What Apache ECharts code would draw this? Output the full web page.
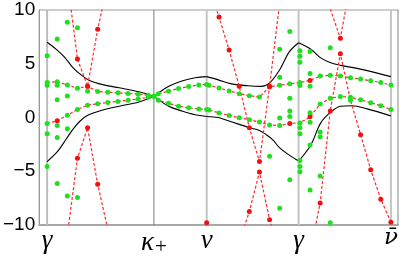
<!DOCTYPE html>
<html><head><meta charset="utf-8">
<script src="https://cdn.jsdelivr.net/npm/echarts@6/dist/echarts.min.js"></script>
<style>html,body{margin:0;padding:0;background:#fff}#c{width:407px;height:258px}</style>
</head><body><div id="c"></div>
<script>
// path coordinate k (sample index along the path), energy E
const symPos = [0, 10.56, 15.78, 24.87, 34];
const symNames = ['γ', 'κ+', 'ν', 'γ', 'ν\u0304'];
const yTicks = [-10, -5, 0, 5, 10];

// exact bands (black)
const blackUpper = [[0,7.0],[0.91,6.33],[1.74,5.6],[2.55,4.64],[3.36,3.96],[4.19,3.45],[5.49,3.06],[7.13,2.76],[9.41,2.31],[10.56,1.97],
  [12.03,2.9],[13.33,3.4],[14.64,3.7],[15.78,3.8],
  [16.93,3.5],[18.24,3.13],[19.87,2.95],[21.18,2.9],[21.99,3.2],[22.97,4.4],[23.95,6.1],[24.87,6.95],
  [26.08,6.35],[27.06,5.55],[28.04,5.1],[29.02,4.85],[30.98,4.5],[33.99,3.8]];
const blackLower = [[0,-4.1],[1.08,-3.1],[1.89,-2.0],[2.55,-1.1],[3.24,-0.35],[4.02,0.2],[5.49,0.7],[7.13,1.05],[9.09,1.45],[10.56,1.97],
  [12.03,1.05],[13.33,0.6],[14.64,0.25],[15.78,0.1],
  [16.93,0.0],[18.07,-0.35],[20.0,-0.95],[20.98,-1.2],[21.67,-1.6],[22.35,-2.1],[22.97,-2.8],[23.95,-3.5],[24.87,-4.05],
  [26.08,-2.55],[27.06,-0.5],[28.04,0.5],[29.02,1.05],[30.17,1.1],[31.64,0.8],[33.99,0.15]];

// approximate bands [k, E, flag]  (flag 1 = marked point)
const bandA = [[0,3.25,0],[1,3.32,0],[2,3.03,0],[3,2.72,0],[4,2.9,1],[5,2.42,0],[6,2.35,0],[7,2.3,0],[8,2.24,0],[9,2.17,0],[10,2.07,0],[10.56,1.97,0],
  [11,2.2,0],[12,2.45,0],[13,2.7,0],[14,2.88,0],[15,3.03,0],[15.78,3.07,0],
  [16,3.0,0],[17,2.75,0],[18,2.47,0],[19,2.22,0],[20,2.03,0],[21,1.9,0],[22,2.87,1],[23,3.0,0],[24,3.13,0],[25,3.25,0],
  [26,3.45,1],[27,3.85,0],[28,3.93,0],[29,3.87,0],[30,3.7,0],[31,3.57,0],[32,3.42,0],[33,3.25,0],[34,3.02,0]];
const bandB = [[0,-0.55,0],[1,-0.3,1],[2,0.22,0],[3,0.75,0],[4,1.15,0],[5,1.27,0],[6,1.4,0],[7,1.5,0],[8,1.6,0],[9,1.72,0],[10,1.88,0],[10.56,1.97,0],
  [11,1.6,0],[12,1.32,0],[13,1.05,0],[14,0.9,0],[15,0.8,0],[15.78,0.75,0],
  [16,0.7,0],[17,0.43,0],[18,0.18,0],[19,-0.02,0],[20,-0.2,0],[21,-0.43,0],[22,-0.7,0],[23,-0.75,0],[24,-0.55,1],[25,-0.5,0],
  [26,0.06,1],[27,1.25,0],[28,1.8,0],[29,1.95,0],[30,1.88,0],[31,1.65,0],[32,1.37,0],[33,1.1,0],[34,0.75,0]];
const bandC = [[2,12.8,0],[3,5.45,1],[4,2.9,1],[5,8.2,1],[6,12.45,0]];
const bandD = [[2,-10.9,0],[3,-3.8,1],[4,-0.95,1],[5,-6.2,1],[6,-10.4,0]];
const bandE = [[16,12.1,0],[17,9.35,1],[18,6.27,1],[19,2.9,1],[20,-0.95,1],[21,-4.1,1],[22,2.9,1],[23,10.7,0]];
const bandF = [[19,-11.5,0],[20,-8.75,1],[21,-5.07,1],[22,-9.5,1],[23,-12.5,0]];
const bandG = [[15,-14,0],[15.78,-9.8,1],[16,-14,0]];
const bandH = [[28,10.1,0],[29,7.37,1],[30,12.5,0]];
const bandI = [[26,-12.6,0],[27,-7.95,1],[28,0.6,1],[29,5.93,1],[30,1.6,0],[31,-1.6,1],[32,-4.85,1],[33,-7.6,1],[34,-9.75,1]];

// unconnected approximate points [k, E]
const loosePoints = [[0,5.75],[1,7.3],[2,8.85],[3,8.35],[0,3.0],[1,3.0],[1,1.65],[2,2.0],[4,2.45],[1,-0.75],[0,-1.5],[1,-1.85],[2,-1.05],
  [0,-4.55],[1,-6.15],[2,-7.3],[3,-7.45],
  [22,-3.6],[23,6.35],[23,3.75],[23,-0.05],[23,-8.45],[24,8.0],[24,1.8],[24,0.6],[24,0.1],[24,-5.8],
  [25,6.2],[25,5.7],[25,5.15],[25,2.98],[25,-0.95],[25,-1.5],[25,-4.0],[25,-4.55],[25,-5.05],
  [26,6.15],[26,4.1],[26,2.9],[26,0.45],[26,-0.45],[26,-2.55],[26,-6.75],[27,-1.35],[27,-1.8],[27,-5.45],[28,6.5],[28,-9.8]];

const GREEN = '#1fe01f', RED = '#f01010', DASH = '#ff2a2a';
const gridLineStyles = [
  {color:'#bdbdbd', width:2}, {color:'#7a7a7a', width:1}, {color:'#c4c4c4', width:2},
  {color:'#c4c4c4', width:2}, {color:'#c4c4c4', width:2}];

const series = [];
symPos.forEach((p, i) => {
  series.push({type:'line', data:[[p,-10],[p,10]], showSymbol:false, silent:true, z:1,
    lineStyle: gridLineStyles[i]});
});
function splitSegments(arr) {
  const segs = []; let cur = [];
  arr.forEach(pt => {
    cur.push(pt);
    if (symPos.slice(1, 4).some(s => Math.abs(s - pt[0]) < 1e-6)) { segs.push(cur); cur = [pt]; }
  });
  if (cur.length > 1) segs.push(cur);
  return segs;
}
[blackUpper, blackLower].forEach(curve => {
  splitSegments(curve).forEach(seg => {
    series.push({type:'line', data:seg, smooth:0.35, showSymbol:false, silent:true, z:2,
      lineStyle:{color:'#000', width:1.1}});
  });
});
[bandI, bandA, bandB, bandC, bandD, bandE, bandF, bandG, bandH].forEach(b => {
  series.push({type:'line', z:3, showAllSymbol:true, symbol:'circle', symbolSize:5,
    lineStyle:{color:DASH, width:1.2, type:[3,2]},
    itemStyle:{color:GREEN},
    data: b.map(p => ({value:[p[0], p[1]], itemStyle:{color: p[2] ? RED : GREEN}}))});
});
series.push({type:'scatter', z:4, symbolSize:5, itemStyle:{color:GREEN, opacity:1}, data:loosePoints});

const chart = echarts.init(document.getElementById('c'), null, {renderer:'canvas'});
chart.setOption({
  animation:false,
  grid:{left:36, right:9, top:10, bottom:25, show:true, borderColor:'#9a9a9a', borderWidth:1.2},
  xAxis:{type:'value', min:-0.78, max:34.7,
    axisLine:{show:true, onZero:false, lineStyle:{color:'#a8a8a8', width:2}},
    axisTick:{show:false}, splitLine:{show:false},
    axisLabel:{customValues:symPos, margin:2, color:'#000',
      formatter: v => {
        const i = symPos.findIndex(p => Math.abs(p - v) < 1e-6);
        const n = i < 0 ? '' : symNames[i];
        if (n === 'κ+') return '{g|κ}{s|+}';
        if (n.length > 1) return '{d|' + n + '}';
        return '{g|' + n + '}';
      },
      rich:{
        g:{fontFamily:'Liberation Serif', fontStyle:'italic', fontSize:27, color:'#000'},
        d:{fontFamily:'DejaVu Serif', fontStyle:'italic', fontSize:23, color:'#000'},
        s:{fontFamily:'Liberation Serif', fontSize:21, color:'#000', padding:[10,0,0,1]}
      }}},
  yAxis:{type:'value', min:-10, max:10, interval:5,
    axisLine:{show:true, onZero:false, lineStyle:{color:'#999', width:1}},
    axisTick:{show:false}, splitLine:{show:false},
    axisLabel:{margin:4, color:'#000', fontFamily:'Liberation Sans', fontSize:19,
      customValues: yTicks,
      formatter: v => v < 0 ? '\u2212' + Math.abs(v) : String(v)}},
  series: series
});
</script></body></html>
